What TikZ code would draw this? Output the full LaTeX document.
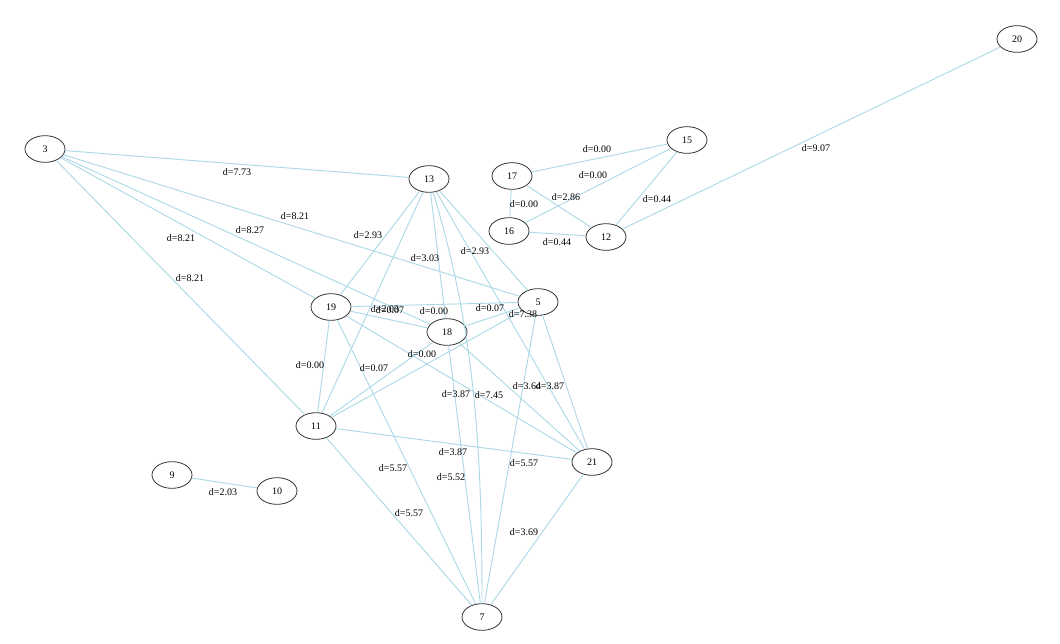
\documentclass[tikz,border=0pt]{standalone}
\usepackage{fontspec}
\setmainfont{Liberation Serif}
\usetikzlibrary{shapes.geometric}
\definecolor{edgeblue}{HTML}{ADD8E6}
\tikzset{
  vertex/.style={ellipse,draw=black!80,line width=0.6pt,minimum width=30pt,minimum height=20pt,inner sep=0pt,font=\fontsize{7.5}{8}\selectfont},
  link/.style={draw=edgeblue,line width=0.7pt},
  dlabel/.style={inner sep=0pt,font=\fontsize{7.5}{8}\selectfont}
}
\begin{document}
\begin{tikzpicture}[x=0.75pt,y=-0.75pt]
\useasboundingbox (0,0) rectangle (1060,643);
% nodes
\node[vertex] (n3)  at (45,149)  {3};
\node[vertex] (n13) at (429,179) {13};
\node[vertex] (n20) at (1017,39) {20};
\node[vertex] (n15) at (687,140) {15};
\node[vertex] (n17) at (512,176) {17};
\node[vertex] (n16) at (509,231) {16};
\node[vertex] (n12) at (606,237) {12};
\node[vertex] (n19) at (331,307) {19};
\node[vertex] (n5)  at (538,302) {5};
\node[vertex] (n18) at (447,332) {18};
\node[vertex] (n11) at (316,426) {11};
\node[vertex] (n21) at (592,462) {21};
\node[vertex] (n9)  at (172,475) {9};
\node[vertex] (n10) at (277,491) {10};
\node[vertex] (n7)  at (482,617) {7};
% edges
\draw[link] (n3) -- (n13);
\draw[link] (n3) -- (n5);
\draw[link] (n3) -- (n18);
\draw[link] (n3) -- (n19);
\draw[link] (n3) -- (n11);
\draw[link] (n13) -- (n19);
\draw[link] (n13) -- (n11);
\draw[link] (n13) -- (n18);
\draw[link] (n13) -- (n5);
\draw[link] (n13) -- (n21);
\draw[link] (n13) .. controls (475,330) and (482,450) .. (n7);
\draw[link] (n19) -- (n5);
\draw[link] (n19) -- (n18);
\draw[link] (n19) -- (n21);
\draw[link] (n19) -- (n7);
\draw[link] (n19) -- (n11);
\draw[link] (n18) -- (n5);
\draw[link] (n18) -- (n11);
\draw[link] (n5) -- (n11);
\draw[link] (n18) -- (n21);
\draw[link] (n5) -- (n21);
\draw[link] (n18) -- (n7);
\draw[link] (n5) -- (n7);
\draw[link] (n11) -- (n21);
\draw[link] (n11) -- (n7);
\draw[link] (n21) -- (n7);
\draw[link] (n9) -- (n10);
\draw[link] (n20) -- (n12);
\draw[link] (n15) -- (n17);
\draw[link] (n15) -- (n16);
\draw[link] (n17) -- (n12);
\draw[link] (n17) -- (n16);
\draw[link] (n16) -- (n12);
\draw[link] (n15) -- (n12);
% labels
\node[dlabel] (l1)  at (237,172) {d=7.73};
\node[dlabel] (l2)  at (295,216) {d=8.21};
\node[dlabel] (l3)  at (250,230) {d=8.27};
\node[dlabel] (l4)  at (181,238) {d=8.21};
\node[dlabel] (l5)  at (190,278) {d=8.21};
\node[dlabel] (l6)  at (368,235) {d=2.93};
\node[dlabel] (l7)  at (385,309) {d=2.03};
\node[dlabel] (l8)  at (425,258) {d=3.03};
\node[dlabel] (l9)  at (475,251) {d=2.93};
\node[dlabel] (l10) at (523,314) {d=7.38};
\node[dlabel] (l11) at (489,395) {d=7.45};
\node[dlabel] (l12) at (434,311) {d=0.00};
\node[dlabel] (l13) at (390,310) {d=0.07};
\node[dlabel] (l14) at (456,394) {d=3.87};
\node[dlabel] (l15) at (393,468) {d=5.57};
\node[dlabel] (l16) at (310,365) {d=0.00};
\node[dlabel] (l17) at (490,308) {d=0.07};
\node[dlabel] (l18) at (374,368) {d=0.07};
\node[dlabel] (l19) at (422,354) {d=0.00};
\node[dlabel] (l20) at (527,386) {d=3.64};
\node[dlabel] (l21) at (550,386) {d=3.87};
\node[dlabel] (l22) at (451,477) {d=5.52};
\node[dlabel] (l23) at (524,463) {d=5.57};
\node[dlabel] (l24) at (453,452) {d=3.87};
\node[dlabel] (l25) at (409,513) {d=5.57};
\node[dlabel] (l26) at (524,532) {d=3.69};
\node[dlabel] (l27) at (223,492) {d=2.03};
\node[dlabel] (l28) at (816,148) {d=9.07};
\node[dlabel] (l29) at (597,149) {d=0.00};
\node[dlabel] (l30) at (593,175) {d=0.00};
\node[dlabel] (l31) at (566,197) {d=2.86};
\node[dlabel] (l32) at (524,204) {d=0.00};
\node[dlabel] (l33) at (557,242) {d=0.44};
\node[dlabel] (l34) at (657,199) {d=0.44};
\end{tikzpicture}
\end{document}
